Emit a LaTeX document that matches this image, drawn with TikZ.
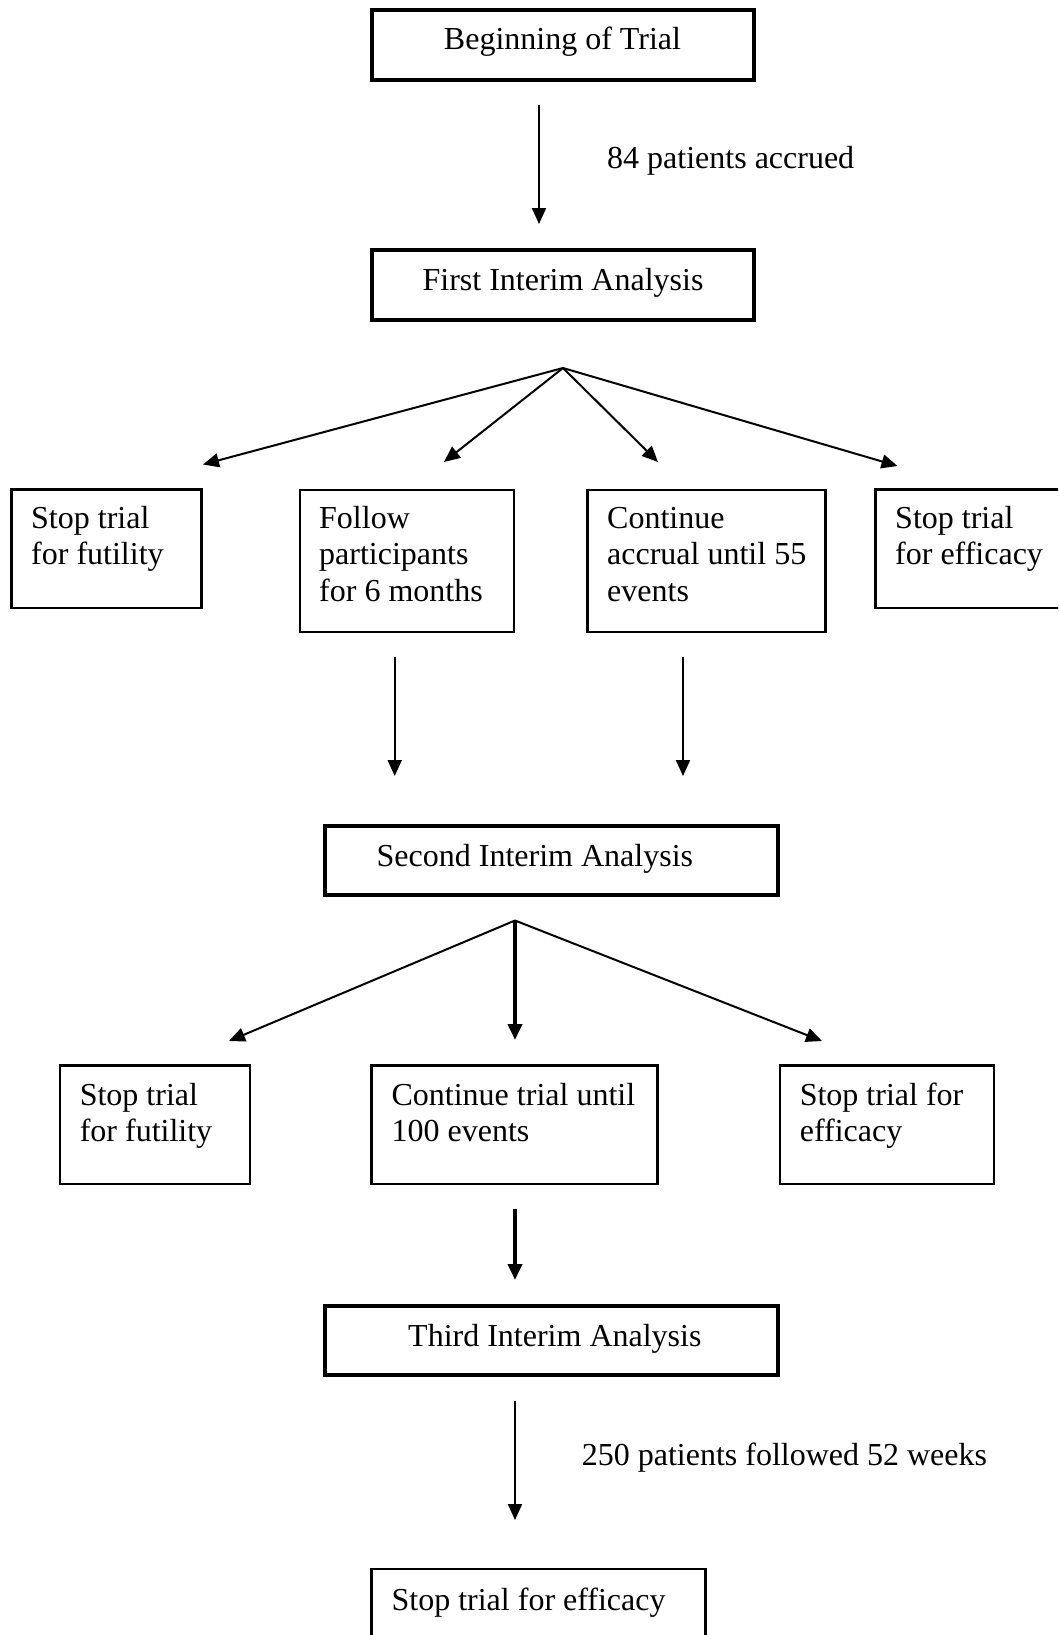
\documentclass[tikz,border=0pt]{standalone}
\usepackage{fontspec}
\setmainfont{Liberation Serif}
\usetikzlibrary{arrows.meta}
\newcommand\fstrut{\rule{0pt}{24pt}}
\begin{document}
\begin{tikzpicture}[x=1pt,y=-1pt,
  mainbox/.style={draw, line width=4pt, rectangle, inner sep=0pt},
  rowbox/.style={draw, line width=2.2pt, rectangle, inner sep=0pt},
  txt/.style={font=\fontsize{32}{36.7}\selectfont, inner sep=0pt, align=left, anchor=north west},
  ltxt/.style={font=\fontsize{32}{36.7}\selectfont, inner sep=0pt, anchor=base west},
  ctxt/.style={font=\fontsize{32}{36.7}\selectfont, inner sep=0pt, anchor=base},
  arr/.style={-{Triangle[length=16pt,width=14pt]}, line width=2pt},
  tarr/.style={-{Triangle[length=16pt,width=14pt]}, line width=3.8pt},
  fan/.style={-{Triangle[length=16pt,width=14pt]}, line width=2pt},
]
\useasboundingbox (0,0) rectangle (1058,1635);
\clip (0,0) rectangle (1058,1635);

% main boxes
\node[mainbox, minimum width=382pt, minimum height=70pt] (begin) at (563,45) {};
\node[ctxt] (begint) at (562.5,50) {Beginning of Trial};
\node[mainbox, minimum width=382pt, minimum height=70pt] (first) at (563,285) {};
\node[ctxt] (firstt) at (563,290) {First Interim Analysis};
\node[mainbox, minimum width=453pt, minimum height=69pt] (second) at (551,860.5) {};
\node[ltxt] (secondt) at (376.5,866) {Second Interim Analysis};
\node[mainbox, minimum width=453pt, minimum height=69pt] (third) at (551,1340.5) {};
\node[ltxt] (thirdt) at (408,1346.7) {Third Interim Analysis};

% labels
\node[ltxt] (lab84) at (607,168) {84 patients accrued};
\node[ltxt] (lab250) at (581.6,1465) {250 patients followed 52 weeks};

% row 1 boxes
\node[rowbox, minimum width=190pt, minimum height=118.5pt] (fut1) at (106.5,548.75) {};
\node[txt] (fut1t) at (31,504) {\fstrut Stop trial\\for futility};
\node[rowbox, minimum width=214pt, minimum height=142pt] (fol) at (407,560.6) {};
\node[txt] (folt) at (319,504) {\fstrut Follow\\participants\\for 6 months};
\node[rowbox, minimum width=238pt, minimum height=142pt] (con) at (706.5,560.6) {};
\node[txt] (cont) at (607,504) {\fstrut Continue\\accrual until 55\\events};
\node[rowbox, minimum width=210pt, minimum height=118.5pt] (eff1) at (980.5,548.75) {};
\node[txt] (eff1t) at (895,504) {\fstrut Stop trial\\for efficacy};

% row 2 boxes
\node[rowbox, minimum width=190pt, minimum height=118.5pt] (fut2) at (155,1124.75) {};
\node[txt] (fut2t) at (79.6,1081) {\fstrut Stop trial\\for futility};
\node[rowbox, minimum width=286pt, minimum height=118.5pt] (con2) at (514.5,1124.75) {};
\node[txt] (con2t) at (391.4,1081) {\fstrut Continue trial until\\100 events};
\node[rowbox, minimum width=214pt, minimum height=118.5pt] (eff2) at (887,1124.75) {};
\node[txt] (eff2t) at (799.6,1081) {\fstrut Stop trial for\\efficacy};

% final box
\node[rowbox, minimum width=334pt, minimum height=118.5pt] (final) at (538.5,1628.25) {};
\node[ltxt] (finalt) at (391.4,1610) {Stop trial for efficacy};

% connector coordinates
\coordinate (a1s) at (539,105);
\coordinate (a1e) at (539,224);
\coordinate (apex1) at (563,368);
\coordinate (t11) at (203,464.5);
\coordinate (t12) at (444,462);
\coordinate (t13) at (658,462);
\coordinate (t14) at (897.5,466);
\coordinate (fs) at (394.7,657);
\coordinate (fe) at (394.7,776);
\coordinate (cs) at (683,657);
\coordinate (ce) at (683,776);
\coordinate (apex2) at (515,920.5);
\coordinate (t21) at (229,1041);
\coordinate (t22) at (515,1040);
\coordinate (t23) at (822,1041);
\coordinate (a3s) at (515,1209);
\coordinate (a3e) at (515,1280);
\coordinate (a4s) at (515,1401);
\coordinate (a4e) at (515,1520);

% connectors
\draw[arr] (a1s) -- (a1e);
\draw[fan] (apex1) -- (t11);
\draw[fan] (apex1) -- (t12);
\draw[fan] (apex1) -- (t13);
\draw[fan] (apex1) -- (t14);
\draw[arr] (fs) -- (fe);
\draw[arr] (cs) -- (ce);
\draw[fan] (apex2) -- (t21);
\draw[tarr] (apex2) -- (t22);
\draw[fan] (apex2) -- (t23);
\draw[tarr] (a3s) -- (a3e);
\draw[arr] (a4s) -- (a4e);
\end{tikzpicture}
\end{document}
